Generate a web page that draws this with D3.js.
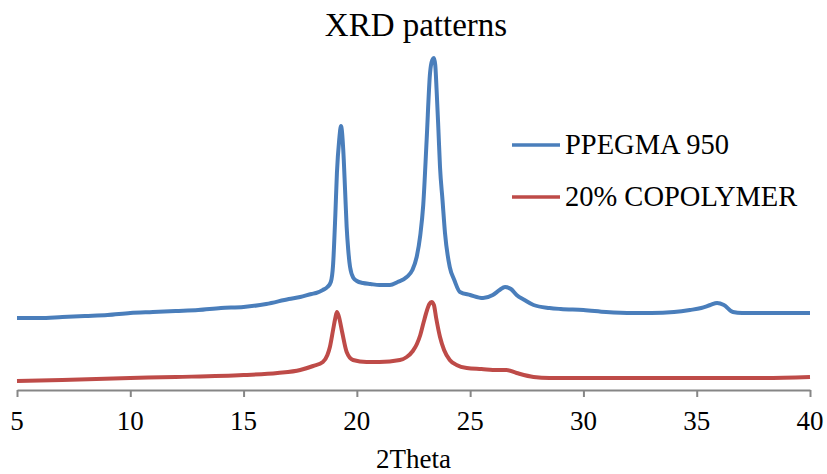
<!DOCTYPE html>
<html>
<head>
<meta charset="utf-8">
<script src="https://cdn.jsdelivr.net/npm/d3@7"></script>
<style>
  body { margin: 0; background: #fff; }
</style>
</head>
<body>
<div id="chart"></div>
<script>
// 2Theta positions and intensities (arbitrary units)
const ppegmaTheta = [5, 6, 7, 8, 9, 10, 11, 12, 13, 14, 15, 16, 17, 17.5, 18, 18.2, 18.5, 18.7, 18.85, 18.95,
    19.05, 19.12, 19.22, 19.3, 19.4, 19.48, 19.55, 19.62, 19.7, 19.85, 20, 20.27, 20.6, 21, 21.46, 21.8, 22.2,
    22.45, 22.64, 22.8, 22.93, 23.08, 23.23, 23.33, 23.4, 23.46, 23.52, 23.6, 23.67, 23.78, 23.89, 24.1, 24.3,
    24.55, 25, 25.57, 26, 26.3, 26.54, 26.8, 27.05, 27.4, 27.8, 28.5, 29, 30, 31, 32.2, 33, 34, 34.7, 35.2,
    35.6, 35.9, 36.2, 36.6, 37, 38, 39, 40];
const ppegmaValues = [72, 72, 73, 74, 75, 77, 78, 79, 80, 82, 83, 86, 91, 93, 96, 97, 100, 103, 108, 125,
    175, 217, 250, 264, 240, 200, 163, 140, 123, 112, 109, 107, 106, 105, 105, 108, 113,
    120, 133, 155, 185, 250, 317, 330, 332, 325, 300, 260, 223, 190, 157, 123, 110,
    98, 95, 92, 95, 100, 103, 101, 95, 90, 85, 82, 81, 80, 78, 77, 77, 78, 80, 82,
    85, 87, 85, 78, 77, 77, 77, 77];

const copolyTheta = [5, 7, 10, 12, 15, 16.5, 17.5, 18.07, 18.5, 18.7, 18.81, 18.95, 19.05, 19.12, 19.2,
    19.35, 19.55, 19.83, 20.43, 21, 21.9, 22.2, 22.47, 22.65, 22.8, 22.95, 23.1, 23.2, 23.3, 23.4, 23.5,
    23.67, 23.85, 24.1, 24.4, 24.85, 25.5, 26.2, 26.6, 27.05, 27.8, 28.5, 30, 32, 34, 36, 38, 40];
const copolyValues = [9, 10, 12, 13, 15, 17, 20, 24, 28, 35, 43, 60, 72, 78, 74,
    58, 38, 30, 28, 28, 30, 33, 39, 46, 55, 68, 80, 86, 88, 85, 72,
    53, 40, 30, 25, 22, 21, 20, 20, 17, 13, 12, 12, 12, 12, 12, 12, 13];

const seriesNames = ["PPEGMA 950", "20% COPOLYMER"];
const seriesColors = ["#4a7ebb", "#be4b48"];
const xTicks = [5, 10, 15, 20, 25, 30, 35, 40];

const font = "Liberation Serif";
const width = 827, height = 474;
const svg = d3.select("#chart").append("svg")
    .attr("width", width)
    .attr("height", height)
    .attr("font-family", font);

const x = d3.scaleLinear().domain([5, 40]).range([17, 810]);
const y = d3.scaleLinear().domain([0, 340]).range([390, 50]);

const line = d3.line()
    .x(d => x(d[0]))
    .y(d => y(d[1]))
    .curve(d3.curveMonotoneX);

const series = [
    d3.zip(ppegmaTheta, ppegmaValues),
    d3.zip(copolyTheta, copolyValues)
];

// axis line and ticks; labels are drawn as plain text below
const axis = svg.append("g")
    .attr("transform", "translate(0," + y(0) + ")")
    .call(d3.axisBottom(x).tickValues(xTicks).tickSize(7).tickSizeOuter(0).tickFormat(""))
    .attr("font-family", null);
axis.select(".domain").attr("stroke", "#868686").attr("stroke-width", 2);
axis.selectAll(".tick line").attr("stroke", "#868686").attr("stroke-width", 2);
axis.selectAll(".tick text").remove();

svg.selectAll("text.xlabel")
    .data(xTicks)
    .enter()
    .append("text")
    .attr("class", "xlabel")
    .attr("x", d => x(d))
    .attr("y", 430)
    .attr("text-anchor", "middle")
    .attr("font-family", font)
    .attr("font-size", 27)
    .text(d => d);

// lines
svg.append("g").selectAll("path")
    .data(series)
    .enter()
    .append("path")
    .attr("d", line)
    .attr("fill", "none")
    .attr("stroke", (d, i) => seriesColors[i])
    .attr("stroke-width", 4)
    .attr("stroke-linejoin", "round");

// title and axis label
svg.append("text")
    .attr("x", 416).attr("y", 36)
    .attr("text-anchor", "middle")
    .attr("font-family", font)
    .attr("font-size", 33)
    .text("XRD patterns");

svg.append("text")
    .attr("x", (x(5) + x(40)) / 2).attr("y", 468)
    .attr("text-anchor", "middle")
    .attr("font-family", font)
    .attr("font-size", 27)
    .text("2Theta");

// legend
svg.selectAll("line.key")
    .data(seriesNames)
    .enter()
    .append("line")
    .attr("class", "key")
    .attr("x1", 512).attr("x2", 560)
    .attr("y1", (d, i) => 145 + i * 52)
    .attr("y2", (d, i) => 145 + i * 52)
    .attr("stroke", (d, i) => seriesColors[i])
    .attr("stroke-width", 3.5);

svg.selectAll("text.key")
    .data(seriesNames)
    .enter()
    .append("text")
    .attr("class", "key")
    .attr("x", 565)
    .attr("y", (d, i) => 154 + i * 52)
    .attr("font-family", font)
    .attr("font-size", 28.5)
    .text(d => d);
</script>
</body>
</html>
